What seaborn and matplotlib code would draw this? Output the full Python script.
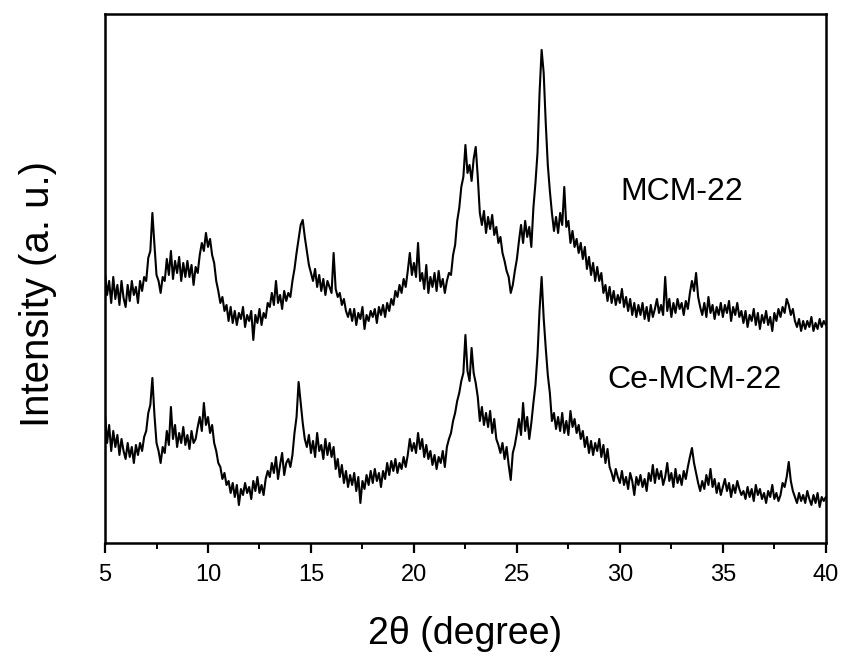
import numpy as np
import pandas as pd
import matplotlib
matplotlib.use("Agg")
import matplotlib.pyplot as plt
from matplotlib.ticker import MultipleLocator
import seaborn as sns

# 2theta grid, 0.1 degree steps from 5 to 40
two_theta = [round(5 + 0.1 * i, 1) for i in range(351)]

# intensities (a.u.), one row per degree
mcm22 = [
    270, 248, 262, 240, 266, 244, 258, 238, 262, 245,
    236, 258, 242, 262, 248, 256, 240, 262, 252, 266,
    262, 285, 292, 330, 298, 268, 262, 250, 266, 262,
    284, 268, 292, 264, 282, 270, 286, 262, 280, 266,
    282, 266, 278, 258, 276, 270, 288, 300, 292, 310,
    296, 304, 288, 280, 262, 252, 240, 246, 232, 238,
    222, 236, 220, 232, 218, 230, 224, 236, 216, 228,
    222, 232, 203, 228, 220, 234, 218, 230, 225, 240,
    236, 250, 238, 262, 240, 248, 234, 252, 242, 250,
    246, 262, 274, 290, 304, 318, 323, 306, 292, 278,
    270, 262, 274, 256, 268, 252, 264, 248, 262, 256,
    250, 290, 254, 246, 250, 238, 244, 232, 226, 234,
    222, 234, 218, 230, 224, 236, 214, 228, 222, 232,
    226, 234, 220, 236, 228, 238, 226, 240, 232, 244,
    238, 252, 246, 258, 250, 264, 256, 272, 290, 268,
    280, 266, 300, 262, 270, 254, 278, 250, 266, 256,
    270, 252, 272, 256, 264, 250, 262, 270, 268, 288,
    298, 322, 335, 356, 366, 398, 370, 378, 362, 384,
    396, 366, 330, 318, 332, 310, 326, 314, 328, 308,
    316, 300, 306, 290, 282, 272, 266, 250, 258, 272,
    284, 302, 318, 300, 322, 306, 316, 296, 335, 360,
    390, 450, 493, 470, 420, 378, 352, 330, 312, 326,
    310, 330, 318, 356, 316, 322, 300, 312, 296, 304,
    290, 300, 284, 296, 274, 286, 268, 280, 262, 276,
    262, 270, 250, 258, 242, 256, 240, 252, 238, 248,
    240, 254, 236, 246, 232, 244, 228, 240, 226, 238,
    228, 240, 224, 236, 222, 238, 226, 234, 244, 230,
    238, 228, 266, 232, 244, 226, 240, 230, 244, 234,
    240, 228, 242, 234, 250, 262, 252, 270, 246, 236,
    228, 240, 226, 246, 230, 238, 224, 236, 228, 240,
    226, 238, 230, 242, 222, 236, 228, 240, 226, 232,
    220, 232, 216, 228, 222, 234, 218, 230, 214, 228,
    220, 232, 218, 226, 212, 230, 222, 234, 226, 236,
    230, 244, 238, 228, 234, 222, 216, 224, 212, 222,
    214, 222, 216, 226, 212, 220, 214, 224, 216, 222,
    218,
]

ce_mcm22 = [
    128, 100, 118, 92, 112, 96, 108, 88, 104, 92,
    84, 100, 86, 96, 80, 98, 88, 100, 92, 106,
    112, 130, 138, 165, 128, 100, 92, 80, 96, 90,
    112, 98, 136, 104, 118, 96, 110, 100, 116, 98,
    108, 94, 112, 100, 104, 116, 126, 112, 140, 118,
    126, 110, 118, 100, 92, 80, 76, 64, 70, 58,
    62, 50, 60, 46, 58, 38, 54, 48, 60, 50,
    56, 44, 62, 52, 66, 50, 58, 48, 64, 72,
    66, 80, 70, 86, 64, 78, 90, 68, 80, 84,
    76, 88, 110, 126, 161, 140, 120, 104, 96, 108,
    90, 102, 86, 110, 92, 98, 84, 104, 88, 100,
    86, 96, 74, 84, 66, 78, 60, 72, 56, 68,
    58, 70, 52, 66, 40, 62, 54, 68, 58, 72,
    60, 74, 62, 70, 56, 72, 64, 80, 68, 82,
    72, 84, 70, 80, 74, 86, 76, 88, 104, 92,
    100, 90, 110, 94, 104, 86, 98, 84, 92, 78,
    88, 74, 86, 80, 92, 76, 96, 104, 110, 122,
    130, 142, 150, 162, 170, 208, 172, 162, 195, 170,
    160, 146, 122, 136, 118, 130, 116, 132, 110, 124,
    104, 98, 90, 100, 84, 96, 78, 63, 90, 98,
    110, 124, 108, 140, 112, 126, 104, 120, 140, 158,
    188, 233, 266, 225, 195, 168, 150, 122, 130, 114,
    126, 112, 130, 110, 122, 108, 132, 116, 124, 110,
    118, 104, 112, 96, 106, 90, 102, 88, 100, 92,
    104, 86, 98, 80, 94, 76, 70, 62, 74, 66,
    60, 72, 58, 66, 54, 70, 62, 48, 66, 58,
    68, 56, 64, 52, 70, 62, 78, 60, 74, 64,
    72, 58, 66, 80, 62, 70, 56, 74, 60, 68,
    58, 72, 64, 76, 86, 95, 80, 70, 60, 52,
    62, 54, 68, 58, 74, 56, 64, 50, 60, 48,
    56, 64, 52, 60, 46, 58, 50, 62, 54, 48,
    52, 44, 56, 46, 54, 42, 58, 48, 54, 44,
    50, 40, 52, 46, 58, 44, 50, 42, 48, 60,
    56, 66, 81, 62, 52, 46, 40, 50, 42, 48,
    40, 52, 44, 38, 48, 40, 50, 36, 46, 42,
    46,
]

labels = ["MCM-22", "Ce-MCM-22"]

sns.set_style("ticks")
plt.rcParams["font.family"] = ["Liberation Sans", "DejaVu Sans"]
plt.rcParams["text.color"] = "black"
plt.rcParams["axes.labelcolor"] = "black"
plt.rcParams["xtick.color"] = "black"
plt.rcParams["axes.edgecolor"] = "black"

df = pd.DataFrame({"two_theta": two_theta * 2,
                   "intensity": mcm22 + ce_mcm22,
                   "sample": [labels[0]] * len(mcm22) + [labels[1]] * len(ce_mcm22)})

fig = plt.figure(figsize=(8.49, 6.63), dpi=100)
ax = fig.add_axes([0.1237, 0.181, 0.849, 0.798])

sns.lineplot(data=df, x="two_theta", y="intensity", units="sample", estimator=None,
             color="black", linewidth=1.5, ax=ax, legend=False)

ax.set_xlim(5, 40)
ax.set_ylim(0, 529)
ax.xaxis.set_major_locator(MultipleLocator(5))
ax.xaxis.set_minor_locator(MultipleLocator(2.5))
ax.set_yticks([])
for s in ax.spines.values():
    s.set_visible(True)
    s.set_linewidth(1.8)
ax.tick_params(axis="x", which="major", direction="out", length=7, width=1.6,
               labelsize=17, pad=8)
ax.tick_params(axis="x", which="minor", direction="out", length=4, width=1.4)

ax.set_xlabel("2θ (degree)", fontsize=27)
ax.xaxis.set_label_coords(0.5, -0.138)
ax.set_ylabel("Intensity (a. u.)", fontsize=29)
ax.yaxis.set_label_coords(-0.066, 0.47)

ax.text(33.0, 351, labels[0], fontsize=23, ha="center", va="center")
ax.text(33.6, 163, labels[1], fontsize=23, ha="center", va="center")

fig.savefig("out.png", dpi=100)
